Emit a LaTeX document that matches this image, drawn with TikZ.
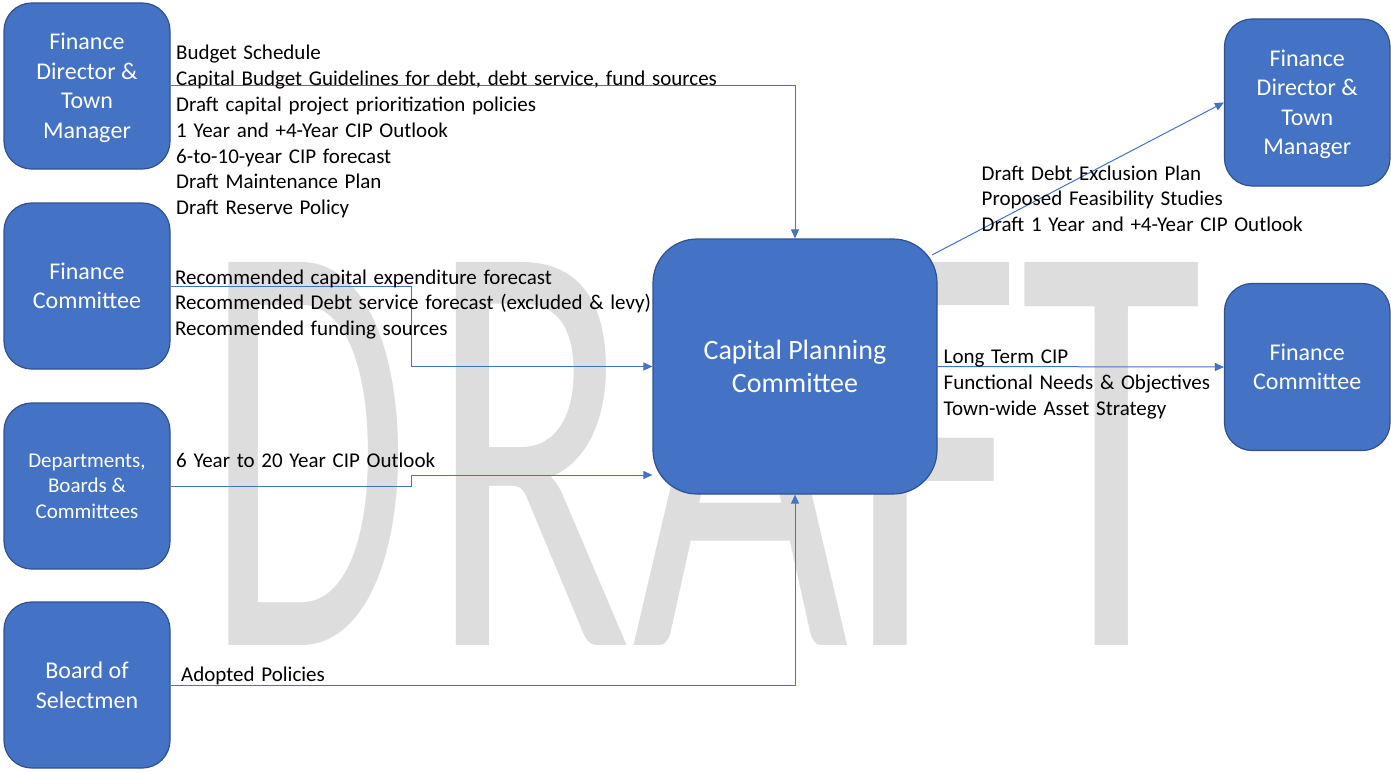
\documentclass[tikz,border=0pt]{standalone}
\usepackage{fontspec}
\usepackage{graphicx}
\setmainfont{Carlito}
\usetikzlibrary{arrows.meta,calc}

\definecolor{boxblue}{HTML}{4472C4}
\definecolor{boxedge}{HTML}{2F528F}
\definecolor{wmgray}{HTML}{DDDDDD}

% left-aligned list of items whose first baseline is the anchor
\newcommand{\flowlines}[1]{\begin{tabular}[t]{@{}l@{}}#1\end{tabular}}
% item text: slightly wider word spaces
\newcommand{\notefont}{\fontsize{21pt}{25.9pt}\selectfont\spaceskip=6.7pt\relax}
% watermark letters
\newcommand{\wmfont}{\fontsize{100pt}{100pt}\selectfont}

\begin{document}
\begin{tikzpicture}[x=1pt,y=-1pt,
  unit/.style={rectangle, rounded corners=27.7pt, fill=boxblue, draw=boxedge,
    line width=1.2pt, minimum width=166pt, minimum height=166pt, inner sep=0pt,
    align=center, text=white, font=\fontsize{24pt}{29.5pt}\selectfont},
  flow/.style={draw=boxblue, line width=1pt, -{Triangle[length=9pt,width=8pt]}},
  note/.style={inner sep=0pt, anchor=base west, font=\notefont}]

\fill[white] (0,0) rectangle (1391,773);
\useasboundingbox (0,0) rectangle (1391,773);

% watermark, stretched vertically
\node[anchor=base west, inner sep=0pt, text=wmgray] (wm) at (206.7,645)
  {\scalebox{3.3}[5.97]{\wmfont D}\hspace{19.3pt}\scalebox{3.74}[5.97]{\wmfont RAFT}};

% sources
\node[unit] (fdl) at (87,86) {Finance\\Director \&\\Town\\Mana\smash{g}er};
\node[unit] (fcl) at (87,286) {Finance\\Committee};
\node[unit, font=\fontsize{21pt}{25.6pt}\selectfont] (dbc) at (87,486) {Departments,\\Boards \&\\Committees};
\node[unit] (bos) at (87,685) {Board of\\Selectmen};

% central committee
\node[unit, minimum width=284pt, minimum height=255pt, rounded corners=44pt,
  font=\fontsize{28pt}{33pt}\selectfont] (cpc) at (795,366.5) {Capital Planning\\Committee};

% recipients
\node[unit, minimum width=165.5pt, minimum height=167pt] (fdr) at (1307.25,102.5) {Finance\\Director \&\\Town\\Mana\smash{g}er};
\node[unit, minimum width=165.5pt, minimum height=167pt] (fcr) at (1307.25,367) {Finance\\Committee};

% connectors
\coordinate (cpcne) at ($(cpc.north east)+(-5.5,16.5)$);
\coordinate (cpcin) at ($(cpc.west)+(0,108.5)$);
\draw[flow] (fdl.east) -| (cpc.north);
\draw[flow] (fcl.east) -- ++(241,0) |- (cpc.west);
\draw[flow] (dbc.east) -- ++(241,0) |- (cpcin);
\draw[flow] (bos.east) -| (cpc.south);
\draw[flow] (cpcne) -- (fdr.west);
\draw[flow] (cpc.east) -- (fcr.west);

% items passed along each connector
\node[note] (n1) at (176,59.5) {\flowlines{Budget Schedule\\
  Capital Budget Guidelines for debt, debt service, fund sources\\
  Draft capital project prioritization policies\\
  1 Year and +4-Year CIP Outlook\\
  6-to-10-year CIP forecast\\
  Draft Maintenance Plan\\
  Draft Reserve Policy}};
\node[note] (n2) at (175,284) {\flowlines{Recommended capital expenditure forecast\\
  Recommended Debt service forecast (excluded \& levy)\\
  Recommended funding sources}};
\node[note] (n3) at (176,467.5) {6 Year to 20 Year CIP Outlook};
\node[note] (n4) at (181,681.5) {Adopted Policies};
\node[note] (n5) at (981.5,180) {\flowlines{Draft Debt Exclusion Plan\\
  Proposed Feasibility Studies\\
  Draft 1 Year and +4-Year CIP Outlook}};
\node[note] (n6) at (943.5,363.5) {\flowlines{Long Term CIP\\
  Functional Needs \& Objectives\\
  Town-wide Asset Strategy}};
\end{tikzpicture}
\end{document}
